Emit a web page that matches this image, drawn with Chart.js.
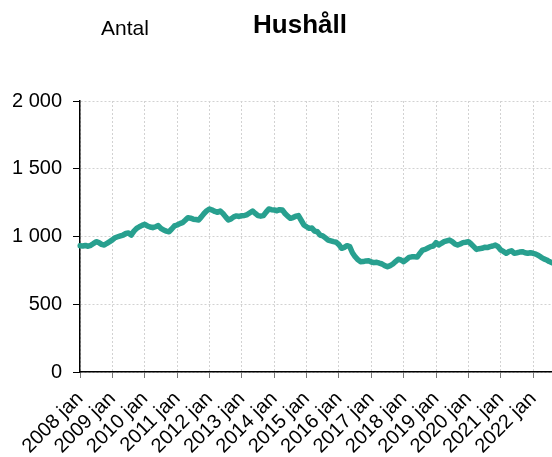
<!DOCTYPE html>
<html>
<head>
<meta charset="utf-8">
<script src="https://cdn.jsdelivr.net/npm/chart.js@4.4.1/dist/chart.umd.min.js"></script>
<style>
  body { margin: 0; background: #fff; }
  #wrap { width: 552px; height: 457px; position: relative; }
</style>
</head>
<body>
<div id="wrap"><canvas id="graph"></canvas></div>
<script>
// Data: households per month, 2008 jan - 2022 aug
const years = [2008, 2009, 2010, 2011, 2012, 2013, 2014, 2015, 2016, 2017, 2018, 2019, 2020, 2021, 2022];
const months = ["jan", "feb", "mar", "apr", "maj", "jun", "jul", "aug", "sep", "okt", "nov", "dec"];

const v2008 = [932, 930, 934, 928, 935, 948, 962, 955, 942, 937, 950, 962];
const v2009 = [975, 991, 998, 1005, 1011, 1022, 1026, 1011, 1040, 1060, 1072, 1082];
const v2010 = [1090, 1078, 1070, 1065, 1072, 1080, 1060, 1048, 1040, 1035, 1055, 1078];
const v2011 = [1085, 1095, 1102, 1120, 1139, 1135, 1128, 1125, 1122, 1145, 1170, 1190];
const v2012 = [1203, 1195, 1185, 1179, 1188, 1170, 1145, 1122, 1130, 1145, 1152, 1148];
const v2013 = [1154, 1155, 1162, 1175, 1188, 1170, 1154, 1150, 1154, 1180, 1203, 1198];
const v2014 = [1196, 1190, 1198, 1196, 1170, 1150, 1134, 1140, 1150, 1154, 1120, 1085];
const v2015 = [1072, 1060, 1062, 1040, 1035, 1011, 1005, 990, 974, 968, 962, 958];
const v2016 = [940, 913, 920, 932, 925, 880, 851, 830, 814, 815, 820, 821];
const v2017 = [812, 807, 810, 803, 797, 785, 777, 785, 797, 815, 832, 827];
const v2018 = [814, 830, 846, 850, 851, 848, 875, 900, 905, 915, 925, 930];
const v2019 = [955, 937, 950, 962, 968, 974, 962, 945, 937, 945, 955, 958];
const v2020 = [962, 945, 925, 905, 910, 913, 920, 918, 925, 930, 937, 925];
const v2021 = [900, 890, 876, 888, 895, 876, 880, 885, 888, 880, 876, 880];
const v2022 = [876, 870, 860, 846, 835, 827, 815, 807];

const values = [].concat(v2008, v2009, v2010, v2011, v2012, v2013, v2014, v2015,
    v2016, v2017, v2018, v2019, v2020, v2021, v2022);

const labels = [];
years.forEach((y) => {
    months.forEach((m) => {
        if (labels.length < values.length) labels.push(y + " " + m);
    });
});

const yTicks = [0, 500, 1000, 1500, 2000];

const font = "'Liberation Sans', Arial, sans-serif";

// Title and unit text drawn at fixed spots like the original
const headings = {
    id: "headings",
    afterDraw(chart) {
        const ctx = chart.ctx;
        ctx.save();
        ctx.fillStyle = "#000";
        ctx.textBaseline = "alphabetic";
        ctx.textAlign = "center";
        ctx.font = "bold 26px " + font;
        ctx.fillText("Hushåll", 300, 33);
        ctx.textAlign = "left";
        ctx.font = "21px " + font;
        ctx.fillText("Antal", 101, 35);
        ctx.restore();
    }
};

new Chart(document.getElementById("graph"), {
    type: "line",
    data: {
        labels: labels,
        datasets: [{
            label: "Hushåll",
            data: values,
            borderColor: "#28a08f",
            borderWidth: 5.5,
            pointRadius: 0,
            tension: 0,
            borderJoinStyle: "round",
            borderCapStyle: "round",
            fill: false
        }]
    },
    options: {
        responsive: true,
        maintainAspectRatio: false,
        animation: false,
        layout: { padding: { top: 101, right: 0, bottom: 0, left: 0 } },
        plugins: {
            legend: { display: false },
            tooltip: { enabled: false },
            title: { display: false }
        },
        scales: {
            x: {
                offset: false,
                border: { display: true, color: "#000", width: 1.5, dash: [2, 2] },
                grid: {
                    color: "#d2d2d2",
                    tickColor: "#777",
                    tickLength: 6,
                    tickBorderDash: []
                },
                ticks: {
                    autoSkip: false,
                    minRotation: 45,
                    maxRotation: 45,
                    color: "#000",
                    padding: 9,
                    font: { family: font, size: 20 },
                    callback: function (val, i) {
                        const l = labels[i];
                        return l.endsWith("jan") ? l : null;
                    }
                },
                afterFit: (scale) => {
                    scale.height = 85;
                    scale.paddingLeft = 0;
                    scale.paddingRight = 0;
                }
            },
            y: {
                min: 0,
                max: 2000,
                border: { display: true, color: "#000", width: 1.5, dash: [2, 2] },
                grid: {
                    color: "#d2d2d2",
                    tickColor: "#000",
                    tickLength: 7,
                    tickBorderDash: []
                },
                afterBuildTicks: (scale) => {
                    scale.ticks = yTicks.map((v) => ({ value: v }));
                },
                ticks: {
                    color: "#000",
                    padding: 11,
                    font: { family: font, size: 20 },
                    callback: (v) => String(v).replace(/\B(?=(\d{3})+(?!\d))/g, " ")
                },
                afterFit: (scale) => { scale.width = 80; }
            }
        }
    },
    plugins: [headings]
});
</script>
</body>
</html>
